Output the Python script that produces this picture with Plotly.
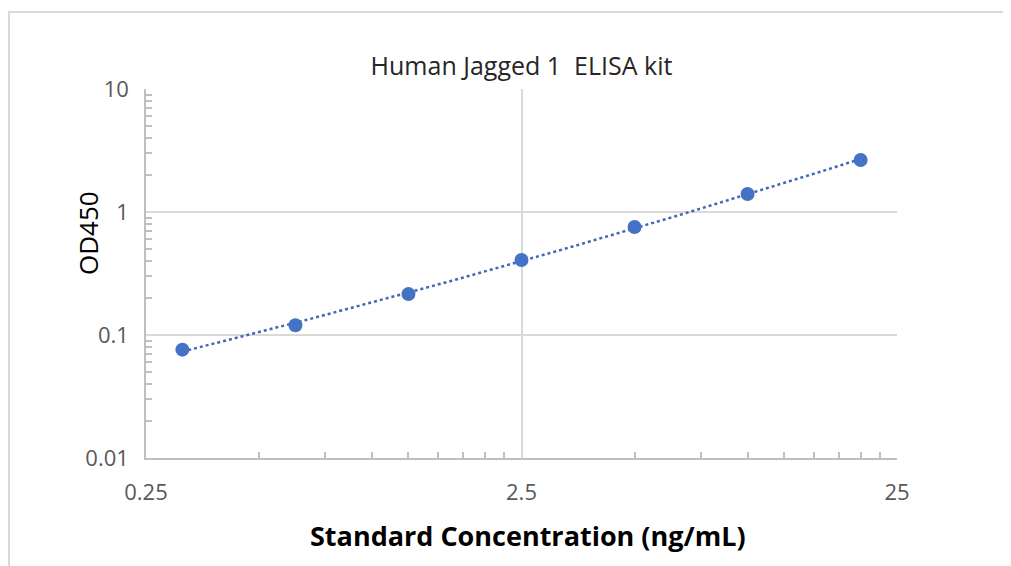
import numpy as np
import plotly.graph_objects as go

# Data
concentration = [0.3125, 0.625, 1.25, 2.5, 5, 10, 20]
od450 = [0.076, 0.12, 0.215, 0.407, 0.755, 1.40, 2.65]

x_tick_vals = [0.25, 2.5, 25]
x_tick_text = ["0.25", "2.5", "25"]
y_tick_vals = [0.01, 0.1, 1, 10]
y_tick_text = ["0.01", "0.1", "1", "10"]

title_text = "Human Jagged 1\u00a0 ELISA kit"
x_title = "Standard Concentration (ng/mL)"
y_title = "OD450"

# Trendline: quadratic fit in log-log space
lx = np.log10(concentration)
ly = np.log10(od450)
coef = np.polyfit(lx, ly, 2)
tx = np.linspace(lx.min(), lx.max(), 200)
trend_x = 10 ** tx
trend_y = 10 ** np.polyval(coef, tx)

x_minor = [0.25 * k * 10 ** d for d in range(0, 2) for k in range(2, 10)]
y_minor = [k * 10.0 ** d for d in range(-2, 1) for k in range(2, 10)]

FONT = "Open Sans"
GRID = "#d9d9d9"
AXIS = "#bfbfbf"
TICK_COLOR = "#595959"

# page has an 8px body margin; compensate so plot area sits at x 146-897, y 89-458
OFF = 8
PL, PR, PT, PB = 146, 897, 89, 458

fig = go.Figure()
fig.add_trace(go.Scatter(
    x=trend_x, y=trend_y, mode="lines",
    line=dict(color="#3f68b5", width=2.5, dash="dot"),
    hoverinfo="skip", showlegend=False,
))
fig.add_trace(go.Scatter(
    x=concentration, y=od450, mode="markers",
    marker=dict(color="#4472C4", size=14),
    showlegend=False,
))

fig.update_layout(
    width=1011, height=566,
    margin=dict(l=PL - OFF, r=1011 - PR + OFF, t=PT - OFF, b=566 - PB + OFF),
    paper_bgcolor="white", plot_bgcolor="white",
    font=dict(family=FONT, color=TICK_COLOR),
    title=dict(text=title_text, x=0.5, xref="paper", xanchor="center",
               y=1 - (66 - OFF) / 566, yref="container", yanchor="middle",
               font=dict(family=FONT, size=25, color="#262626")),
)

fig.update_xaxes(
    type="log", range=[np.log10(0.25), np.log10(25)],
    tickmode="array", tickvals=x_tick_vals, ticktext=x_tick_text,
    tickfont=dict(family=FONT, size=22, color=TICK_COLOR),
    ticks="", ticklabelstandoff=14,
    showgrid=True, gridcolor=GRID, gridwidth=1.5,
    showline=True, linecolor=AXIS, linewidth=1.5,
    zeroline=False,
    minor=dict(tickmode="array", tickvals=x_minor, ticks="inside",
               ticklen=6, tickcolor=AXIS, tickwidth=1.5, showgrid=False),
)
fig.update_yaxes(
    type="log", range=[-2, 1],
    tickmode="array", tickvals=y_tick_vals, ticktext=y_tick_text,
    tickfont=dict(family=FONT, size=22, color=TICK_COLOR),
    ticks="", ticklabelstandoff=11,
    showgrid=True, gridcolor=GRID, gridwidth=1.5,
    showline=True, linecolor=AXIS, linewidth=1.5,
    zeroline=False,
    minor=dict(tickmode="array", tickvals=y_minor, ticks="inside",
               ticklen=6, tickcolor=AXIS, tickwidth=1.5, showgrid=False),
)

# X-axis title placed as in the reference
fig.add_annotation(text="<b>" + x_title + "</b>", xref="paper", yref="paper",
                   x=(528 - PL) / (PR - PL), y=(PB - 535) / (PB - PT),
                   xanchor="center", yanchor="middle", showarrow=False,
                   font=dict(family=FONT, size=27, color="#000000"))

# Y-axis title placed as in the reference (above the vertical centre)
fig.add_annotation(text=y_title, xref="paper", yref="paper",
                   x=(88 - PL) / (PR - PL), y=(PB - 233) / (PB - PT),
                   xanchor="center", yanchor="middle", textangle=-90,
                   showarrow=False,
                   font=dict(family=FONT, size=26, color="#000000"))

# Outer chart-area border (light gray)
fig.add_shape(type="rect", xref="paper", yref="paper",
              x0=(9 - PL) / (PR - PL), x1=(1040 - PL) / (PR - PL),
              y0=(PB - 620) / (PB - PT), y1=(PB - 12) / (PB - PT),
              line=dict(color="#d9d9d9", width=2), fillcolor="rgba(0,0,0,0)",
              layer="below")

fig.write_html("out.html")
